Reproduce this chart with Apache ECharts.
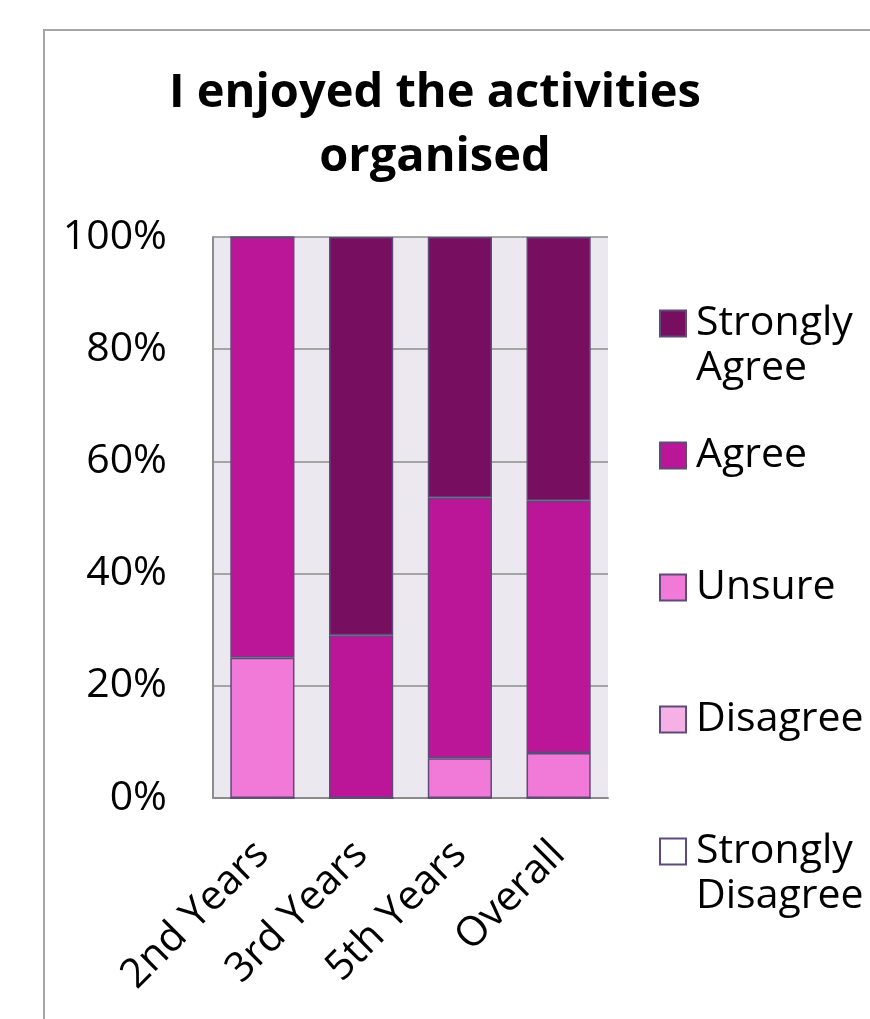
<!DOCTYPE html>
<html>
<head>
<meta charset="utf-8">
<script src="https://cdn.jsdelivr.net/npm/echarts@6/dist/echarts.min.js"></script>
<style>
  html, body { margin: 0; padding: 0; background: #ffffff; }
  #chart { width: 870px; height: 1019px; }
</style>
</head>
<body>
<div id="chart"></div>
<script>
// Survey responses, percent of each group
const categories = ['2nd Years', '3rd Years', '5th Years', 'Overall'];
const stronglyDisagree = [0, 0, 0, 0];
const disagree = [0, 0, 0, 0];
const unsure = [25, 0, 7.1, 8];
const agree = [75, 29, 46.4, 45];
const stronglyAgree = [0, 71, 46.5, 47];
const yTicks = [0, 20, 40, 60, 80, 100];

const FONT = '"Open Sans", sans-serif';
const EDGE = '#5f4b7b';
const TEXT_SIZE = 41;

const seriesDefs = [
  { name: 'Strongly Disagree', data: stronglyDisagree, color: '#ffffff' },
  { name: 'Disagree', data: disagree, color: '#f5b1e6' },
  { name: 'Unsure', data: unsure, color: '#f179d8' },
  { name: 'Agree', data: agree, color: '#bb1598' },
  { name: 'Strongly Agree', data: stronglyAgree, color: '#770e60' }
];

// Legend labels: two-word names break onto a second line, padded so the
// swatch lines up with the first line of text.
const legendLabel = function (name) {
  const parts = name.split(' ');
  if (parts.length === 2) {
    return '{e| }\n{t|' + parts[0] + '}\n{t|' + parts[1] + '}';
  }
  return '{e| }\n{t|' + name + '}\n{e| }';
};

const chart = echarts.init(document.getElementById('chart'), null, { renderer: 'canvas' });

chart.setOption({
  backgroundColor: '#ffffff',
  animation: false,
  title: {
    text: 'I enjoyed the activities\norganised',
    left: 'center',
    top: 57,
    textStyle: {
      fontFamily: FONT,
      fontWeight: 'bold',
      fontSize: 47,
      lineHeight: 64,
      color: '#000000'
    }
  },
  legend: {
    orient: 'vertical',
    left: 654,
    top: 253,
    itemGap: 1,
    itemWidth: 26,
    itemHeight: 26,
    icon: 'rect',
    data: ['Strongly Agree', 'Agree', 'Unsure', 'Disagree', 'Strongly Disagree'],
    formatter: legendLabel,
    textStyle: {
      fontFamily: FONT,
      fontSize: TEXT_SIZE,
      color: '#000000',
      rich: {
        e: { fontFamily: FONT, fontSize: TEXT_SIZE, lineHeight: 45 },
        t: { fontFamily: FONT, fontSize: TEXT_SIZE, lineHeight: 45, color: '#000000', padding: [0, 0, 0, 5] }
      }
    }
  },
  graphic: [
    {
      type: 'rect',
      shape: { x: 44, y: 30, width: 900, height: 1100 },
      style: { fill: 'none', stroke: '#a6a6a6', lineWidth: 2 },
      z: 100
    }
  ],
  grid: {
    left: 213,
    right: 262,
    top: 237,
    bottom: 221,
    show: true,
    backgroundColor: '#ebe9ef',
    borderWidth: 0
  },
  xAxis: {
    type: 'category',
    data: categories,
    axisLine: { show: true, lineStyle: { color: '#8c8c8c', width: 2 } },
    axisTick: { show: false },
    axisLabel: {
      rotate: 45,
      margin: 50,
      fontFamily: FONT,
      fontSize: TEXT_SIZE,
      color: '#000000'
    }
  },
  yAxis: {
    type: 'value',
    min: yTicks[0],
    max: yTicks[yTicks.length - 1],
    interval: 20,
    axisLine: { show: true, lineStyle: { color: '#8c8c8c', width: 2 } },
    axisTick: { show: false },
    splitLine: { show: true, lineStyle: { color: '#8c8c8c', width: 1.5 } },
    axisLabel: {
      margin: 46,
      fontFamily: FONT,
      fontSize: TEXT_SIZE,
      color: '#000000',
      formatter: '{value}%'
    }
  },
  series: seriesDefs.map(function (s) {
    return {
      name: s.name,
      type: 'bar',
      stack: 'total',
      barWidth: '65%',
      data: s.data,
      itemStyle: { color: s.color, borderColor: EDGE, borderWidth: 1.5 }
    };
  })
});
</script>
</body>
</html>
